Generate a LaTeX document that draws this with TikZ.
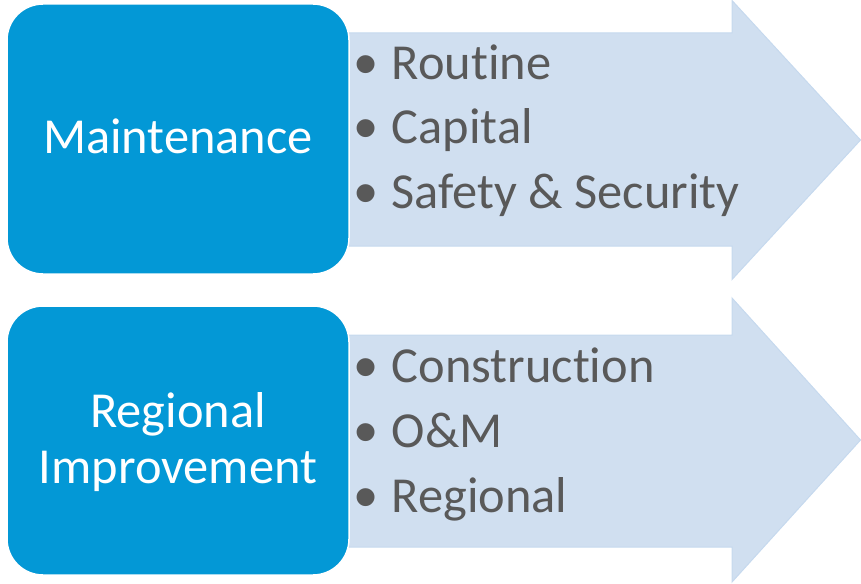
\documentclass[tikz,border=0pt]{standalone}
\usepackage{fontspec}
\setmainfont[Ligatures={NoCommon,NoRequired,NoContextual}]{Carlito}
\newfontfamily\bulfont{Liberation Sans}
\definecolor{boxblue}{HTML}{0398D6}
\definecolor{arrowfill}{HTML}{D0DFF0}
\definecolor{arrowline}{HTML}{C6D9EE}
\definecolor{itemgray}{HTML}{595959}
\tikzset{
  bigarrow/.style={fill=arrowfill, draw=arrowline, line width=1pt, line join=miter},
  catbox/.style={fill=boxblue, draw=white, line width=1.5pt, rounded corners=36pt},
  cattext/.style={text=white, font=\fontsize{50.4}{56}\selectfont, align=center, inner sep=0pt},
  itemtext/.style={text=itemgray, font=\fontsize{50.4}{56}\selectfont, anchor=base west, inner sep=0pt},
}
\newcommand{\itm}[1]{\raisebox{-7pt}{\bulfont\fontsize{66}{70}\selectfont •}\hspace{14.5pt}#1}
\begin{document}
\begin{tikzpicture}[x=1pt,y=-1pt]
\useasboundingbox (0,0) rectangle (861,583);
% arrows
\draw[bigarrow] (340,33) -- (732,33) -- (732,0.5) -- (860.5,140) -- (732,279.5) -- (732,246) -- (340,246) -- cycle;
\draw[bigarrow] (340,335) -- (732,335) -- (732,298) -- (860.5,440) -- (732,582) -- (732,547) -- (340,547) -- cycle;
% boxes
\draw[catbox] (7,4) rectangle (349,274);
\draw[catbox] (7,306) rectangle (349,575);
\node[cattext, anchor=base] (maint) at (178,153) {Maintenance};
\node[cattext, anchor=base] (regimp) at (178,483) {Regional\\Improvement};
% items
\node[itemtext] (routine) at (354,80) {\itm{Routine}};
\node[itemtext] (capital) at (354,143) {\itm{Capital}};
\node[itemtext] (safety) at (354,208) {\itm{Safety \& Security}};
\node[itemtext] (constr) at (354,382) {\itm{Construction}};
\node[itemtext] (om) at (354,447) {\itm{O\&M}};
\node[itemtext] (regional) at (354,512) {\itm{Regional}};
\end{tikzpicture}
\end{document}
